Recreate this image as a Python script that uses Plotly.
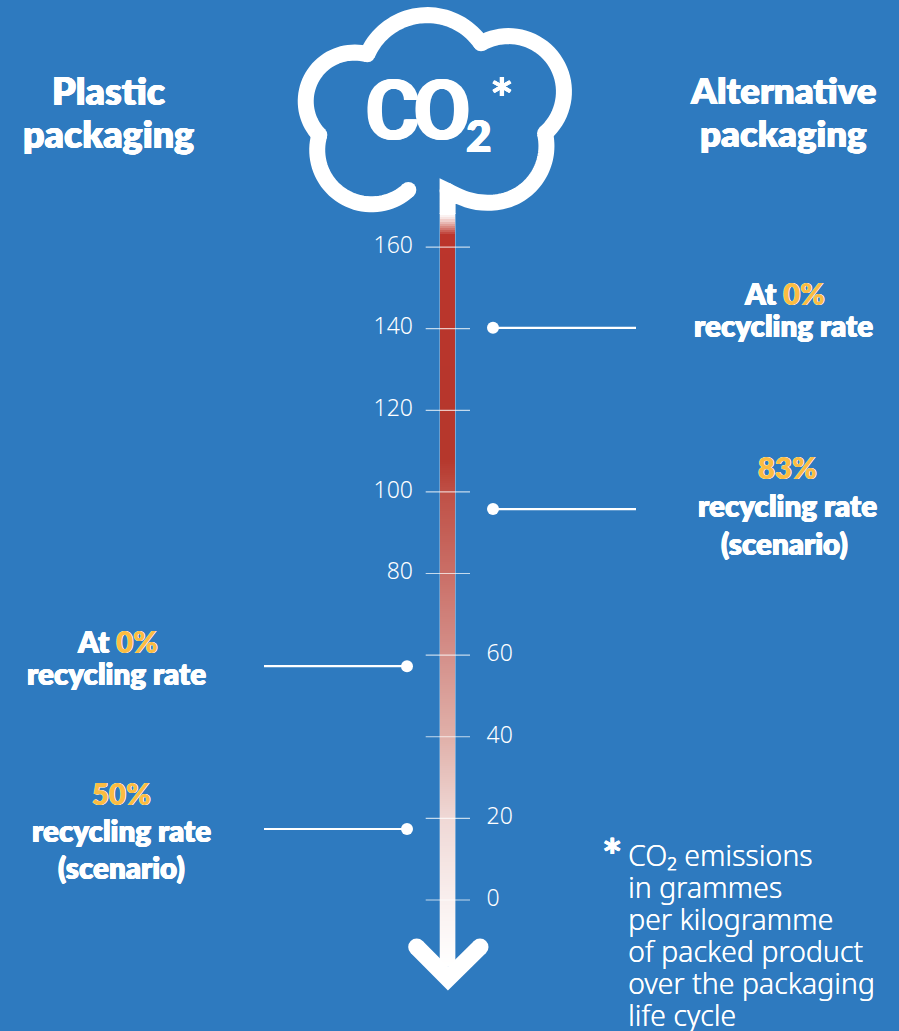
import math
import plotly.graph_objects as go

# ---- data ----
tick_values = [0, 20, 40, 60, 80, 100, 120, 140, 160]
left_tick_labels = [80, 100, 120, 140, 160]
right_tick_labels = [0, 20, 40, 60]
plastic_values = [57.3, 17.4]
alternative_values = [140.2, 95.8]
YELLOW = "#FBBC42"
pct = "<span style='color:%s'>%%s</span>" % YELLOW
label_lines = [
    ("Plastic", 108, 90, 37.5), ("packaging", 108, 133, 37.5),
    ("Alternative", 783, 90, 36.5), ("packaging", 783, 133, 36.5),
    ("At " + pct % "0%", 117, 641, 29.5), ("recycling rate", 116, 673, 29.5),
    (pct % "50%", 121, 793, 29.5), ("recycling rate", 121, 830, 29.5), ("(scenario)", 121, 867, 29.5),
    ("At " + pct % "0%", 784, 293, 29.5), ("recycling rate", 783, 325, 29.5),
    (pct % "83%", 787, 467, 29.5), ("recycling rate", 787, 505, 29.5), ("(scenario)", 784, 543, 29.5),
]
note_lines = ["CO₂ emissions", "in grammes", "per kilogramme",
              "of packed product", "over the packaging", "life cycle"]
grad_values = [-16, 0, 20, 40, 60, 80, 90, 100, 108, 163, 165, 167, 168]
grad_colors = ["#FFFFFF", "#F9EFEE", "#EFD8D5", "#E0B0A9", "#D4908A", "#CA6F67", "#C45F56",
               "#BF5046", "#B5372C", "#BB352C", "#D98A82", "#F7E4E2", "#FFFFFF"]

BG = "#2E7ABF"
WHITE = "#FFFFFF"
FONT_BOLD = "Lato"
FONT_CO = "Roboto"
FONT_REG = "Noto Sans"
SHADOW = "0.5px 0 0 #fff, -0.5px 0 0 #fff, 0 0.4px 0 #fff"
PX_PER_UNIT = 4.081
ZERO_PX = 900
H = 1031
W = 899
BAR_L, BAR_R = 440, 455


def crop(p):
    return (280 + p[0] / 3, p[1] / 3)


def arc(p0, p1, r, n=40):
    """Clockwise (on screen) arc of radius r between two points of the reference crop."""
    x0, y0 = crop(p0)
    x1, y1 = crop(p1)
    r = r / 3
    dx, dy = x1 - x0, y1 - y0
    c = math.hypot(dx, dy)
    h = math.sqrt(max(r * r - c * c / 4, 0))
    cx, cy = (x0 + x1) / 2 - dy / c * h, (y0 + y1) / 2 + dx / c * h
    a0 = math.atan2(y0 - cy, x0 - cx)
    a1 = math.atan2(y1 - cy, x1 - cx)
    while a1 < a0:
        a1 += 2 * math.pi
    return [(cx + r * math.cos(a0 + (a1 - a0) * i / n), cy + r * math.sin(a0 + (a1 - a0) * i / n))
            for i in range(n + 1)]


def to_path(pts, tail=""):
    return "M" + " L".join(f"{x:.2f},{y:.2f}" for x, y in pts) + tail


P_START, C1, C2, C3, C4, P_BOTTOM = (385, 570), (118, 405), (262, 163), (603, 130), (795, 400), (626, 608)
lobes = [arc(P_START, C1, 163), arc(C1, C2, 146), arc(C2, C3, 196), arc(C3, C4, 166.5), arc(C4, P_BOTTOM, 170)]
lobe_tail = " C 470,203 458,196 447.6,191 L 447.6,214"
cusps = [crop(P_START), crop(C1), crop(C2), crop(C3), crop(C4), (447.6, 191)]

shapes = []
for i, pts in enumerate(lobes):
    shapes.append(dict(type="path", xref="x", yref="y2", layer="above",
                       path=to_path(pts, lobe_tail if i == 4 else ""),
                       line=dict(color=WHITE, width=16)))
for cx, cy in cusps:
    shapes.append(dict(type="circle", xref="x", yref="y2", layer="above",
                       x0=cx - 8, x1=cx + 8, y0=cy - 8, y1=cy + 8,
                       fillcolor=WHITE, line=dict(width=0)))
# arrow head
shapes.append(dict(type="path", xref="x", yref="y2", layer="above",
                   path="M416.7,947 L448,978.5 L480,947",
                   line=dict(color=WHITE, width=17)))
for cx in (416.7, 480):
    shapes.append(dict(type="circle", xref="x", yref="y2", layer="above",
                       x0=cx - 8.5, x1=cx + 8.5, y0=947 - 8.5, y1=947 + 8.5,
                       fillcolor=WHITE, line=dict(width=0)))
# pale edges of the stem under the gradient
shapes.append(dict(type="rect", xref="x", yref="y2", layer="below",
                   x0=439.4, x1=455.8, y0=213, y1=970,
                   fillcolor="rgba(255,255,255,0.45)", line=dict(width=0)))

fig = go.Figure()

# gradient shaft (one column; x holds the two column edges)
lo, hi = grad_values[0], grad_values[-1]
levels = [lo + i * 0.5 for i in range(2 * (hi - lo) + 1)]
scale = [[(v - lo) / (hi - lo), c] for v, c in zip(grad_values, grad_colors)]
fig.add_trace(go.Heatmap(x=[BAR_L, BAR_R], y=levels, z=[[v] for v in levels],
                         colorscale=scale, zmin=lo, zmax=hi, showscale=False,
                         hoverinfo="skip", xgap=0, ygap=0))

# ticks
tx, ty = [], []
for v in tick_values:
    tx += [425.7, 470, None]
    ty += [v, v, None]
fig.add_trace(go.Scatter(x=tx, y=ty, mode="lines", hoverinfo="skip",
                         line=dict(color="rgba(255,255,255,0.72)", width=1.2)))

# tick labels
fig.add_trace(go.Scatter(x=[413] * len(left_tick_labels), y=left_tick_labels,
                         text=[str(v) for v in left_tick_labels], mode="text",
                         textposition="middle left", hoverinfo="skip",
                         textfont=dict(family=FONT_REG, size=23, color=WHITE, weight=300)))
fig.add_trace(go.Scatter(x=[486.5] * len(right_tick_labels), y=right_tick_labels,
                         text=[str(v) for v in right_tick_labels], mode="text",
                         textposition="middle right", hoverinfo="skip",
                         textfont=dict(family=FONT_REG, size=23, color=WHITE, weight=300)))

# connectors
for x_line, x_dot, vals in ((264, 407, plastic_values), (636, 493, alternative_values)):
    for v in vals:
        fig.add_trace(go.Scatter(x=[x_line, x_dot], y=[v, v], mode="lines",
                                 hoverinfo="skip", line=dict(color=WHITE, width=2.2)))
        fig.add_trace(go.Scatter(x=[x_dot], y=[v], mode="markers", hoverinfo="skip",
                                 marker=dict(color=WHITE, size=12, line=dict(width=0))))


def note(text, x, y, size, family=FONT_BOLD, weight=800, anchor="center", shadow=SHADOW):
    return dict(text=text, x=x, y=y, xref="x", yref="y2", showarrow=False, xanchor=anchor,
                yanchor="middle", align="center" if anchor == "center" else "left",
                font=dict(family=family, size=size, color=WHITE, weight=weight, shadow=shadow))


annots = [note(t, x, y, s) for t, x, y, s in label_lines]
annots += [
    note("<span style='letter-spacing:-7px'>CO</span>", 416, 110, 84, family=FONT_CO, weight=700,
         shadow="1px 0 0 #fff, -1px 0 0 #fff"),
    note("2", 479, 135, 44),
    note("*", 502, 97, 56, weight=700),
    note("*", 612, 855, 48, weight=700),
]
for i, line in enumerate(note_lines):
    annots.append(note(line, 626, 855 + 32 * i, 28.5, family=FONT_REG, weight=300,
                       anchor="left", shadow="0.2px 0 0 #fff"))

fig.update_layout(
    width=W, height=H, margin=dict(l=0, r=0, t=0, b=0), autosize=False,
    paper_bgcolor=BG, plot_bgcolor=BG, showlegend=False,
    xaxis=dict(range=[0, W], visible=False, fixedrange=True),
    yaxis=dict(range=[(ZERO_PX - H) / PX_PER_UNIT, ZERO_PX / PX_PER_UNIT],
               visible=False, fixedrange=True),
    yaxis2=dict(range=[H, 0], overlaying="y", visible=False, fixedrange=True),
    shapes=shapes, annotations=annots,
)

fig.write_html("out.html", config=dict(displayModeBar=False),
               post_script="document.body.style.margin='0';document.documentElement.style.overflow='hidden';")
